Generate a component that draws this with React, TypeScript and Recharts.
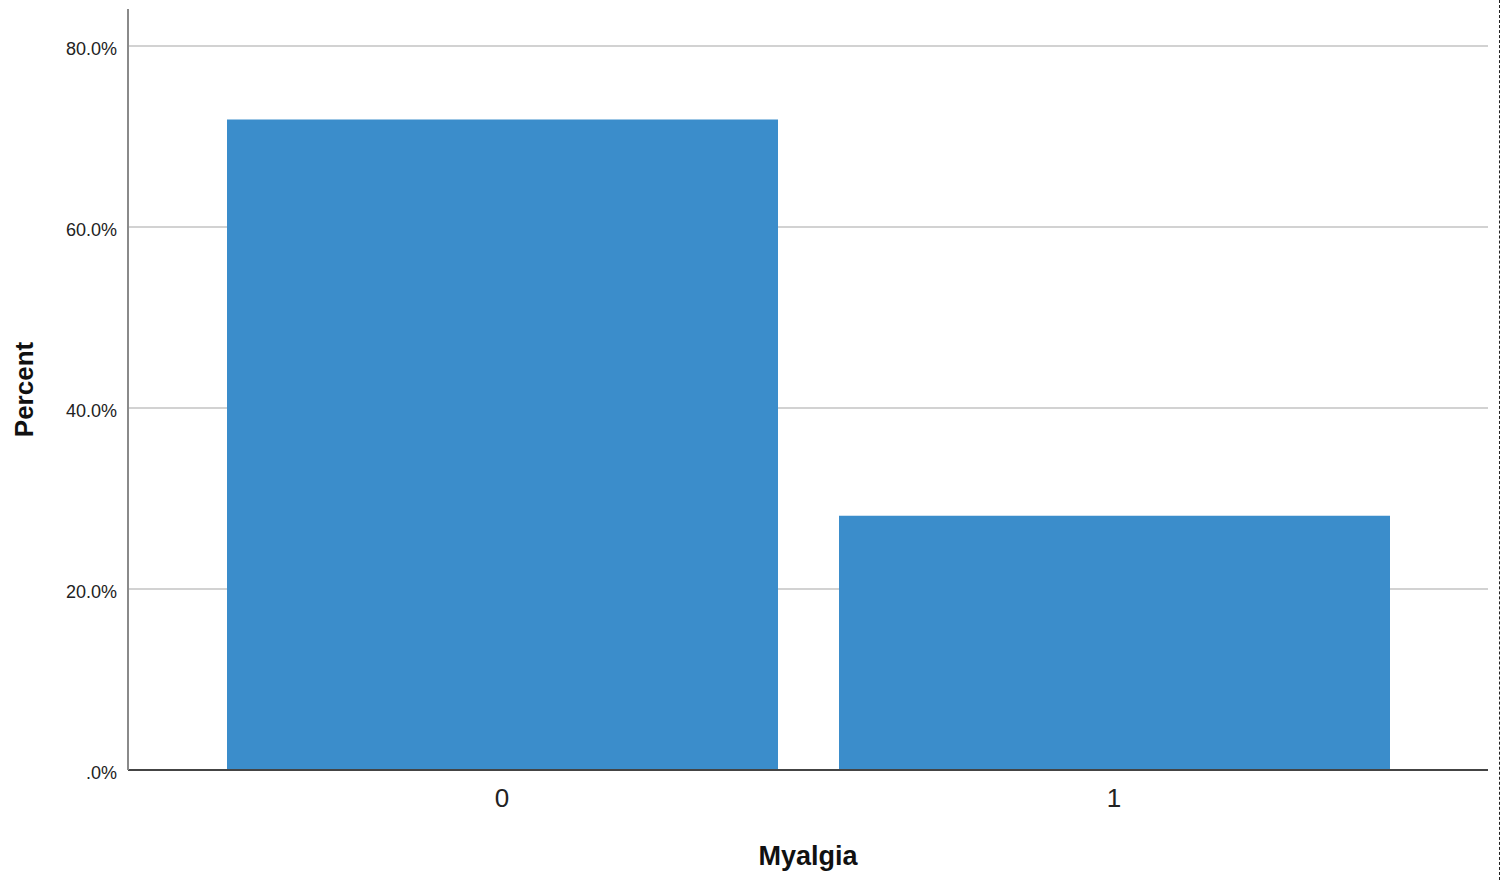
import { Bar, BarChart, CartesianGrid, XAxis, YAxis } from "recharts";

// values
const categories = ["0", "1"];
const percents = [71.9, 28.1];
const yTicks = [0, 20, 40, 60, 80];

const data = categories.map((name, i) => ({ name, percent: percents[i] }));

const formatPercent = (value: number) =>
	value === 0 ? ".0%" : `${value.toFixed(1)}%`;

const font = "'Liberation Sans', Arial, sans-serif";

export default function App() {
	return (
		<div
			style={{
				position: "absolute",
				top: 0,
				left: 0,
				width: 1499,
				height: 880,
				background: "#fff",
				borderRight: "1px dashed #222",
				fontFamily: font,
			}}
		>
			<BarChart
				width={1499}
				height={880}
				data={data}
				margin={{ top: 9, right: 11, bottom: 10, left: 0 }}
			>
				<CartesianGrid
					vertical={false}
					stroke="#d2d2d2"
					strokeWidth={2}
					syncWithTicks
				/>
				<XAxis
					dataKey="name"
					height={100}
					padding={{ left: 68, right: 68 }}
					tickLine={false}
					stroke="#444"
					strokeWidth={2}
					tick={{ fontSize: 26, fill: "#222", fontFamily: font }}
					tickMargin={13}
					label={{
						value: "Myalgia",
						position: "insideBottom",
						offset: 5,
						style: {
							fontSize: 27,
							fontWeight: "bold",
							fill: "#111",
							fontFamily: font,
						},
					}}
				/>
				<YAxis
					width={128}
					domain={[0, 84.1]}
					ticks={yTicks}
					tickFormatter={formatPercent}
					tickLine={false}
					stroke="#8a8a8a"
					strokeWidth={2}
					tickMargin={5}
					tick={{ fontSize: 18, fill: "#222", fontFamily: font, dy: 3 }}
					label={{
						value: "Percent",
						angle: -90,
						position: "insideLeft",
						offset: 24,
						style: {
							fontSize: 26,
							fontWeight: "bold",
							fill: "#111",
							fontFamily: font,
							textAnchor: "middle",
						},
					}}
				/>
				<Bar
					dataKey="percent"
					fill="#3b8dcb"
					barSize={551}
					isAnimationActive={false}
				/>
			</BarChart>
		</div>
	);
}
